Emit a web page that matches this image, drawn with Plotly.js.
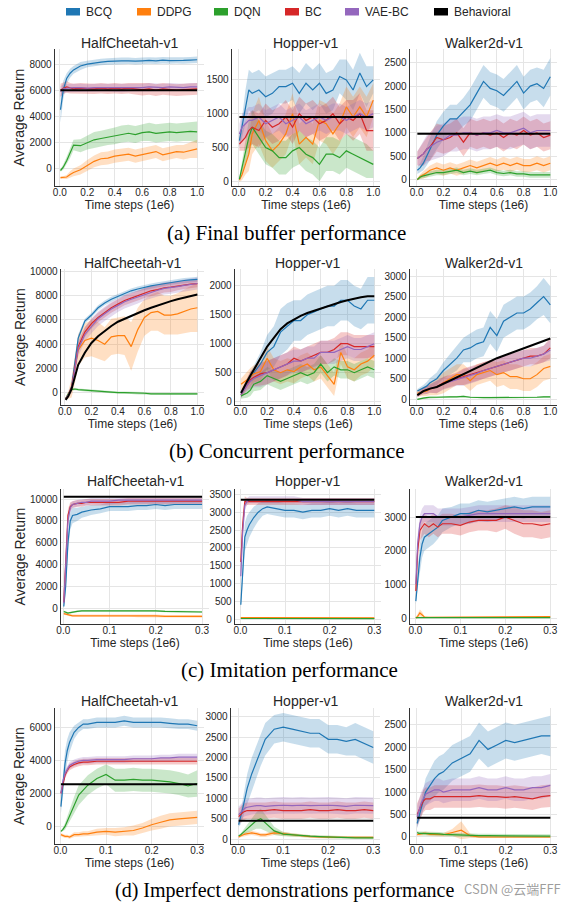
<!DOCTYPE html>
<html>
<head>
<meta charset="utf-8">
<script src="https://cdn.plot.ly/plotly-3.0.1.min.js"></script>
<style>html,body{margin:0;padding:0;background:#fff}#chart{width:576px;height:904px}</style>
</head>
<body>
<div id="chart"></div>
<script>
// ---------------- DATA ----------------
const methods = ['BCQ', 'DDPG', 'DQN', 'BC', 'VAE-BC', 'Behavioral'];
const envs = ['HalfCheetah-v1', 'Hopper-v1', 'Walker2d-v1'];
const captions = ['(a) Final buffer performance', '(b) Concurrent performance', '(c) Imitation performance', '(d) Imperfect demonstrations performance'];
const xTickVals1 = [0, 0.2, 0.4, 0.6, 0.8, 1.0];
const xTickText1 = ['0.0', '0.2', '0.4', '0.6', '0.8', '1.0'];
const xTickVals2 = [0, 0.1, 0.2, 0.3];
const xTickText2 = ['0.0', '0.1', '0.2', '0.3'];

// time steps (1e6)
const xAB = [0.005, 0.025, 0.05, 0.075, 0.1, 0.15, 0.2, 0.25, 0.3, 0.35, 0.4, 0.45, 0.5, 0.55, 0.6, 0.65, 0.7, 0.75, 0.8, 0.85, 0.9, 0.95, 1.0];
const xCD = [0.001, 0.005, 0.01, 0.015, 0.02, 0.03, 0.04, 0.05, 0.06, 0.08, 0.1, 0.12, 0.14, 0.16, 0.18, 0.2, 0.22, 0.24, 0.26, 0.28, 0.3];

// (a) Final buffer — HalfCheetah
const a1_BCQ = [4500, 6000, 6900, 7300, 7550, 7850, 8000, 8100, 8150, 8200, 8250, 8250, 8250, 8220, 8250, 8280, 8250, 8300, 8270, 8300, 8280, 8300, 8330];
const a1_BCQ_sd = [1000, 700, 400, 350, 300, 300, 250, 250, 250, 250, 250, 250, 250, 250, 250, 250, 250, 250, 250, 250, 250, 250, 250];
const a1_DDPG = [-700, -700, -650, -450, -300, -100, 250, 550, 750, 800, 950, 1050, 1100, 950, 1050, 1200, 1300, 1050, 1200, 1300, 1250, 1400, 1500];
const a1_DDPG_sd = [100, 100, 150, 250, 300, 350, 400, 450, 500, 500, 500, 500, 500, 500, 500, 500, 500, 500, 500, 500, 550, 600, 700];
const a1_DQN = [-150, 100, 600, 1200, 1800, 1750, 2000, 2200, 2300, 2400, 2500, 2650, 2700, 2600, 2750, 2800, 2700, 2750, 2800, 2750, 2800, 2850, 2800];
const a1_DQN_sd = [100, 200, 300, 400, 400, 500, 550, 600, 600, 600, 650, 650, 650, 650, 650, 700, 700, 700, 700, 700, 700, 750, 800];
const a1_BC = [6000, 6150, 6250, 6150, 6100, 6150, 6100, 6100, 6150, 6100, 6150, 6100, 6150, 6100, 6050, 6100, 6000, 6100, 6050, 6000, 6050, 6100, 6100];
const a1_BC_sd = [500, 450, 450, 400, 400, 400, 400, 400, 400, 400, 400, 400, 400, 450, 450, 450, 450, 450, 450, 450, 450, 450, 450];
const a1_VAE = [5900, 6100, 6150, 6200, 6200, 6200, 6150, 6200, 6200, 6200, 6200, 6150, 6200, 6200, 6200, 6250, 6200, 6200, 6250, 6200, 6200, 6250, 6250];
const a1_VAE_sd = [400, 350, 300, 300, 300, 300, 300, 300, 300, 300, 300, 300, 300, 300, 300, 300, 300, 300, 300, 300, 300, 300, 300];
const a1_Beh = [6000, 6000];

// (a) Final buffer — Hopper
const a2_BCQ = [600, 800, 1100, 1350, 1300, 1350, 1250, 1300, 1400, 1400, 1450, 1300, 1450, 1350, 1450, 1300, 1350, 1550, 1500, 1350, 1600, 1400, 1500];
const a2_BCQ_sd = [100, 150, 250, 300, 300, 300, 300, 300, 250, 250, 250, 300, 300, 300, 300, 300, 300, 250, 300, 300, 300, 300, 200];
const a2_DDPG = [20, 100, 250, 400, 700, 900, 600, 450, 550, 700, 1000, 550, 650, 550, 900, 850, 700, 850, 1100, 950, 1100, 950, 1200];
const a2_DDPG_sd = [30, 80, 150, 250, 300, 350, 300, 250, 250, 300, 300, 300, 300, 300, 300, 300, 300, 300, 300, 300, 300, 300, 250];
const a2_DQN = [30, 200, 450, 650, 800, 650, 500, 450, 350, 350, 450, 500, 400, 350, 250, 400, 400, 350, 450, 400, 350, 300, 250];
const a2_DQN_sd = [30, 100, 200, 250, 250, 250, 250, 250, 250, 250, 250, 250, 250, 250, 250, 250, 250, 250, 250, 250, 250, 250, 200];
const a2_BC = [550, 600, 650, 750, 800, 750, 900, 800, 850, 950, 800, 1000, 900, 950, 850, 900, 1000, 850, 950, 900, 1000, 750, 750];
const a2_BC_sd = [100, 150, 200, 250, 250, 250, 250, 250, 250, 250, 250, 250, 250, 250, 250, 250, 250, 250, 250, 300, 300, 300, 300];
const a2_VAE = [700, 800, 850, 900, 900, 950, 850, 900, 950, 850, 900, 950, 850, 900, 950, 900, 950, 950, 900, 950, 1000, 950, 1000];
const a2_VAE_sd = [150, 200, 200, 200, 200, 200, 200, 200, 200, 200, 200, 200, 200, 200, 200, 200, 200, 200, 200, 200, 200, 200, 200];
const a2_Beh = [950, 950];

// (a) Final buffer — Walker2d
const a3_BCQ = [200, 250, 350, 500, 650, 950, 1150, 1300, 1300, 1450, 1600, 1850, 2100, 1950, 1900, 1800, 1950, 2100, 1850, 2000, 2050, 1950, 2200];
const a3_BCQ_sd = [80, 100, 150, 200, 250, 300, 300, 300, 300, 300, 350, 350, 350, 350, 350, 350, 350, 350, 350, 350, 350, 400, 400];
const a3_DDPG = [0, 60, 100, 150, 200, 250, 200, 250, 200, 250, 300, 250, 300, 350, 300, 350, 300, 350, 300, 300, 350, 300, 350];
const a3_DDPG_sd = [20, 50, 80, 100, 100, 120, 120, 120, 120, 120, 130, 130, 130, 130, 130, 140, 140, 140, 140, 140, 150, 150, 150];
const a3_DQN = [0, 50, 80, 100, 120, 150, 150, 170, 200, 150, 180, 150, 180, 200, 150, 130, 150, 120, 120, 100, 100, 100, 100];
const a3_DQN_sd = [20, 40, 50, 60, 60, 60, 60, 60, 60, 60, 60, 60, 60, 60, 60, 60, 60, 60, 60, 60, 60, 60, 60];
const a3_BC = [450, 500, 550, 650, 700, 900, 850, 900, 1000, 800, 1000, 950, 1000, 950, 1000, 900, 1000, 950, 1050, 950, 1000, 900, 950];
const a3_BC_sd = [150, 200, 250, 250, 300, 300, 300, 300, 300, 300, 300, 300, 300, 300, 300, 300, 300, 300, 300, 300, 300, 300, 300];
const a3_VAE = [450, 500, 550, 650, 700, 800, 850, 950, 950, 1000, 1000, 950, 1000, 1000, 1050, 1000, 1000, 1050, 1100, 1000, 1050, 1050, 1050];
const a3_VAE_sd = [150, 200, 250, 300, 300, 350, 350, 350, 350, 350, 350, 350, 350, 350, 350, 350, 350, 350, 350, 350, 350, 350, 350];
const a3_Beh = [980, 980];

// (b) Concurrent — HalfCheetah
const b1_BCQ = [-500, -200, 500, 2500, 4500, 5900, 6400, 7000, 7400, 7700, 7950, 8200, 8400, 8550, 8700, 8800, 8900, 9000, 9100, 9150, 9250, 9300, 9350];
const b1_BCQ_sd = [100, 150, 200, 300, 300, 200, 200, 200, 200, 200, 200, 200, 200, 200, 200, 200, 200, 200, 200, 200, 200, 200, 200];
const b1_DDPG = [-500, -200, 400, 2000, 3500, 4300, 4500, 4300, 4000, 4600, 4700, 4700, 3800, 5200, 6200, 6600, 6700, 6400, 6400, 6500, 6700, 6900, 7000];
const b1_DDPG_sd = [100, 300, 800, 1200, 1300, 1400, 1500, 1500, 1400, 1500, 1500, 1600, 2000, 1800, 1500, 1500, 1600, 1600, 1600, 1700, 1800, 1900, 2000];
const b1_DQN = [-500, -100, 250, 300, 250, 200, 150, 100, 100, 50, 0, 0, 0, -50, -50, -100, -100, -100, -100, -100, -100, -120, -100];
const b1_DQN_sd = [50, 100, 100, 100, 100, 100, 100, 100, 100, 100, 100, 100, 100, 100, 100, 100, 100, 100, 100, 100, 100, 100, 100];
const b1_BC = [-500, -200, 400, 2200, 3800, 5000, 5700, 6200, 6600, 7000, 7300, 7600, 7800, 8000, 8200, 8400, 8500, 8650, 8700, 8800, 8900, 8950, 9000];
const b1_BC_sd = [100, 200, 300, 400, 400, 400, 400, 400, 400, 400, 400, 400, 400, 400, 400, 400, 400, 400, 400, 350, 350, 300, 300];
const b1_VAE = [-500, -200, 300, 2000, 3600, 4800, 5500, 6100, 6500, 6900, 7200, 7500, 7700, 7900, 8100, 8300, 8450, 8600, 8650, 8750, 8850, 8900, 9000];
const b1_VAE_sd = [100, 200, 300, 500, 600, 600, 600, 600, 600, 600, 550, 550, 550, 550, 500, 500, 500, 500, 500, 500, 500, 500, 500];
const b1_Beh = [-600, -300, 300, 1300, 2300, 3300, 4100, 4650, 5100, 5500, 5850, 6100, 6350, 6600, 6800, 7000, 7200, 7400, 7550, 7700, 7850, 8000, 8100];

// (b) Concurrent — Hopper
const b2_BCQ = [120, 220, 330, 420, 500, 650, 850, 950, 1200, 1300, 1400, 1400, 1500, 1550, 1600, 1650, 1650, 1750, 1750, 1650, 1600, 1750, 1750];
const b2_BCQ_sd = [50, 60, 80, 100, 120, 200, 300, 350, 400, 400, 350, 350, 350, 350, 350, 350, 350, 350, 350, 350, 350, 400, 400];
const b2_DDPG = [300, 330, 380, 430, 480, 520, 750, 550, 500, 550, 520, 600, 650, 550, 600, 450, 300, 850, 600, 550, 650, 700, 800];
const b2_DDPG_sd = [100, 120, 150, 150, 150, 150, 200, 200, 200, 200, 200, 200, 200, 200, 200, 200, 200, 200, 200, 200, 200, 200, 200];
const b2_DQN = [100, 120, 150, 200, 300, 350, 450, 400, 350, 400, 450, 500, 450, 500, 650, 500, 600, 550, 550, 500, 550, 600, 550];
const b2_DQN_sd = [50, 60, 80, 100, 120, 150, 150, 150, 150, 150, 150, 150, 150, 150, 150, 150, 150, 150, 150, 150, 150, 150, 150];
const b2_BC = [120, 200, 300, 380, 420, 480, 500, 550, 600, 650, 750, 700, 750, 800, 850, 850, 900, 1000, 1000, 950, 950, 950, 950];
const b2_BC_sd = [50, 80, 100, 150, 150, 200, 200, 200, 200, 200, 200, 200, 200, 200, 200, 200, 200, 200, 200, 200, 200, 200, 200];
const b2_VAE = [120, 200, 280, 350, 400, 450, 500, 550, 600, 650, 700, 700, 750, 750, 850, 850, 850, 900, 950, 900, 900, 950, 1000];
const b2_VAE_sd = [50, 80, 100, 150, 150, 200, 200, 200, 200, 200, 200, 200, 200, 200, 200, 200, 200, 200, 200, 200, 200, 200, 200];
const b2_Beh = [150, 250, 350, 450, 550, 750, 950, 1100, 1250, 1350, 1420, 1480, 1530, 1570, 1600, 1640, 1680, 1720, 1750, 1780, 1800, 1820, 1820];

// (b) Concurrent — Walker2d
const b3_BCQ = [200, 230, 270, 320, 400, 500, 700, 850, 1000, 1200, 1250, 1350, 1400, 1750, 1550, 1900, 2000, 2100, 2100, 2200, 2350, 2500, 2300];
const b3_BCQ_sd = [50, 60, 80, 100, 120, 150, 200, 250, 300, 300, 350, 350, 350, 400, 400, 400, 400, 400, 400, 400, 400, 450, 450];
const b3_DDPG = [150, 150, 180, 200, 250, 300, 400, 500, 600, 600, 450, 600, 650, 700, 600, 650, 550, 550, 500, 500, 600, 750, 800];
const b3_DDPG_sd = [80, 80, 100, 120, 150, 200, 250, 250, 250, 250, 250, 250, 250, 250, 300, 300, 300, 300, 300, 300, 300, 300, 300];
const b3_DQN = [0, 20, 30, 40, 50, 50, 60, 60, 60, 70, 50, 40, 40, 40, 40, 40, 40, 40, 50, 50, 50, 60, 60];
const b3_DQN_sd = [20, 20, 20, 20, 20, 20, 20, 20, 20, 20, 20, 20, 20, 20, 20, 20, 20, 20, 20, 20, 20, 20, 20];
const b3_BC = [100, 150, 200, 230, 260, 300, 400, 450, 500, 550, 600, 650, 700, 750, 800, 850, 900, 950, 1000, 1050, 1050, 1100, 1250];
const b3_BC_sd = [50, 60, 80, 100, 100, 150, 150, 150, 150, 200, 200, 200, 200, 200, 200, 200, 200, 200, 200, 200, 200, 200, 250];
const b3_VAE = [100, 150, 200, 230, 260, 300, 380, 430, 480, 530, 580, 630, 700, 750, 800, 850, 900, 950, 1000, 1000, 1050, 1100, 1200];
const b3_VAE_sd = [50, 60, 80, 100, 100, 150, 150, 150, 150, 200, 200, 200, 200, 200, 200, 200, 200, 200, 200, 200, 200, 200, 250];
const b3_Beh = [100, 150, 200, 230, 260, 300, 380, 450, 520, 600, 680, 760, 850, 920, 1000, 1060, 1120, 1180, 1240, 1300, 1360, 1420, 1480];

// (c) Imitation — HalfCheetah
const c1_BCQ = [200, 2000, 6000, 8000, 8500, 8600, 8800, 8900, 9000, 9100, 9300, 9300, 9300, 9400, 9400, 9500, 9400, 9500, 9500, 9500, 9500];
const c1_BCQ_sd = [200, 500, 800, 800, 700, 600, 500, 500, 450, 400, 400, 400, 400, 400, 400, 400, 400, 400, 400, 400, 400];
const c1_DDPG = [-450, -500, -550, -600, -650, -650, -650, -600, -600, -650, -600, -600, -600, -650, -650, -650, -700, -700, -700, -700, -700];
const c1_DDPG_sd = [100, 100, 100, 120, 120, 120, 120, 120, 120, 120, 120, 120, 120, 120, 120, 120, 120, 120, 120, 120, 120];
const c1_DQN = [-250, -350, -400, -350, -300, -250, -200, -200, -150, -150, -150, -150, -150, -200, -200, -200, -250, -250, -300, -300, -300];
const c1_DQN_sd = [80, 80, 80, 80, 80, 80, 80, 80, 80, 80, 80, 80, 80, 80, 80, 80, 80, 80, 80, 80, 80];
const c1_BC = [600, 4000, 8500, 9300, 9500, 9600, 9600, 9700, 9700, 9700, 9700, 9700, 9800, 9800, 9800, 9800, 9800, 9800, 9800, 9800, 9800];
const c1_BC_sd = [300, 600, 600, 400, 300, 300, 300, 300, 300, 300, 300, 300, 300, 300, 300, 300, 300, 300, 300, 300, 300];
const c1_VAE = [500, 3500, 8000, 9200, 9500, 9600, 9700, 9700, 9800, 9800, 9800, 9900, 9900, 9900, 9900, 9900, 9900, 9900, 9900, 9900, 9900];
const c1_VAE_sd = [300, 600, 600, 400, 300, 300, 300, 300, 300, 300, 300, 300, 300, 300, 300, 300, 300, 300, 300, 300, 300];
const c1_Beh = [10200, 10200];

// (c) Imitation — Hopper
const c2_BCQ = [400, 1300, 2300, 2500, 2650, 2850, 3000, 3100, 3150, 3100, 3050, 3050, 3000, 3050, 3050, 3100, 3050, 3100, 3050, 3050, 3050];
const c2_BCQ_sd = [100, 300, 400, 400, 350, 300, 250, 200, 200, 200, 200, 200, 200, 200, 200, 200, 200, 200, 200, 200, 200];
const c2_DDPG = [40, 40, 40, 40, 30, 30, 30, 30, 30, 30, 30, 30, 30, 30, 40, 30, 30, 30, 30, 30, 30];
const c2_DDPG_sd = [20, 20, 20, 20, 20, 20, 20, 20, 20, 20, 20, 20, 20, 20, 20, 20, 20, 20, 20, 20, 20];
const c2_DQN = [15, 15, 10, 10, 10, 10, 10, 10, 10, 10, 10, 10, 10, 10, 10, 10, 10, 10, 10, 10, 10];
const c2_DQN_sd = [10, 10, 10, 10, 10, 10, 10, 10, 10, 10, 10, 10, 10, 10, 10, 10, 10, 10, 10, 10, 10];
const c2_BC = [1600, 2600, 3300, 3300, 3300, 3300, 3300, 3300, 3280, 3300, 3300, 3300, 3300, 3280, 3300, 3280, 3300, 3300, 3280, 3300, 3300];
const c2_BC_sd = [300, 300, 150, 100, 100, 100, 100, 100, 100, 100, 100, 100, 100, 100, 100, 100, 100, 100, 100, 100, 100];
const c2_VAE = [1200, 2400, 3200, 3300, 3350, 3350, 3350, 3350, 3350, 3350, 3350, 3350, 3300, 3300, 3300, 3300, 3300, 3300, 3300, 3300, 3300];
const c2_VAE_sd = [300, 300, 150, 100, 100, 100, 100, 100, 100, 100, 100, 100, 100, 100, 100, 100, 100, 100, 100, 100, 100];
const c2_Beh = [3350, 3350];

// (c) Imitation — Walker2d
const c3_BCQ = [500, 1200, 1800, 2200, 2400, 2500, 2600, 2700, 2900, 3000, 3100, 3100, 3200, 3150, 3200, 3250, 3300, 3250, 3300, 3300, 3300];
const c3_BCQ_sd = [100, 300, 400, 400, 400, 400, 400, 350, 350, 300, 300, 300, 300, 300, 300, 300, 300, 300, 300, 300, 300];
const c3_DDPG = [0, 50, 150, 100, 30, 20, 20, 20, 20, 20, 20, 40, 30, 30, 30, 30, 30, 30, 30, 40, 40];
const c3_DDPG_sd = [20, 60, 100, 80, 30, 20, 20, 20, 20, 20, 20, 20, 20, 20, 20, 20, 20, 20, 20, 20, 20];
const c3_DQN = [10, 10, 10, 10, 10, 10, 10, 10, 10, 10, 10, 10, 10, 10, 10, 10, 10, 10, 10, 10, 10];
const c3_DQN_sd = [10, 10, 10, 10, 10, 10, 10, 10, 10, 10, 10, 10, 10, 10, 10, 10, 10, 10, 10, 10, 10];
const c3_BC = [800, 2000, 2600, 2700, 2800, 2700, 2800, 2700, 2800, 2800, 2750, 2850, 2900, 2900, 2900, 3000, 2900, 2800, 2800, 2750, 2800];
const c3_BC_sd = [200, 300, 300, 300, 300, 300, 300, 300, 300, 300, 300, 300, 300, 300, 350, 350, 400, 400, 400, 400, 400];
const c3_VAE = [1000, 2200, 2800, 3000, 3100, 3100, 3100, 3000, 3000, 3000, 3000, 3050, 3100, 3100, 3100, 3100, 3100, 3100, 3100, 3100, 3100];
const c3_VAE_sd = [250, 250, 250, 250, 250, 250, 250, 250, 250, 250, 250, 250, 250, 250, 250, 250, 250, 250, 250, 250, 250];
const c3_Beh = [3000, 3000];

// (d) Imperfect demonstrations — HalfCheetah
const d1_BCQ = [1200, 2500, 3800, 4600, 5100, 5700, 6000, 6200, 6200, 6300, 6300, 6300, 6400, 6300, 6300, 6300, 6300, 6250, 6200, 6200, 6100];
const d1_BCQ_sd = [400, 700, 800, 700, 600, 400, 300, 300, 300, 300, 300, 300, 300, 300, 300, 300, 300, 300, 300, 300, 300];
const d1_DDPG = [-500, -550, -600, -600, -650, -500, -500, -450, -450, -350, -300, -350, -300, -250, -100, 100, 250, 400, 450, 500, 550];
const d1_DDPG_sd = [100, 100, 100, 100, 100, 150, 150, 150, 150, 200, 200, 250, 250, 300, 300, 350, 400, 400, 400, 400, 400];
const d1_DQN = [-300, -200, 0, 300, 700, 1300, 1900, 2200, 2500, 2900, 3150, 2800, 2800, 2850, 2800, 2800, 2750, 2700, 2600, 2450, 2600];
const d1_DQN_sd = [50, 100, 200, 300, 400, 500, 600, 600, 600, 600, 600, 700, 700, 700, 700, 700, 700, 700, 700, 700, 800];
const d1_BC = [2000, 2600, 3100, 3400, 3600, 3750, 3850, 3900, 3900, 3950, 3950, 3950, 3950, 3950, 3950, 3950, 3950, 3950, 3950, 3950, 3950];
const d1_BC_sd = [200, 200, 200, 200, 200, 200, 200, 200, 200, 200, 200, 200, 200, 200, 200, 200, 200, 200, 200, 200, 200];
const d1_VAE = [2000, 2700, 3200, 3500, 3700, 3850, 3950, 4000, 4000, 4050, 4050, 4050, 4050, 4100, 4100, 4100, 4150, 4150, 4200, 4200, 4200];
const d1_VAE_sd = [200, 200, 200, 200, 200, 200, 200, 200, 200, 200, 200, 200, 200, 200, 200, 200, 200, 200, 200, 200, 200];
const d1_Beh = [2550, 2550];

// (d) Imperfect demonstrations — Hopper
const d2_BCQ = [350, 500, 750, 1000, 1250, 1600, 1900, 2200, 2450, 2700, 2750, 2700, 2650, 2600, 2600, 2450, 2450, 2400, 2450, 2350, 2250];
const d2_BCQ_sd = [50, 150, 250, 300, 350, 400, 400, 400, 400, 350, 350, 350, 350, 350, 350, 350, 350, 350, 400, 400, 400];
const d2_DDPG = [50, 80, 100, 120, 130, 150, 130, 100, 100, 150, 130, 100, 80, 60, 50, 50, 40, 40, 40, 40, 40];
const d2_DDPG_sd = [30, 40, 50, 50, 50, 50, 50, 50, 50, 50, 50, 40, 40, 30, 30, 30, 30, 30, 30, 30, 30];
const d2_DQN = [80, 100, 150, 200, 250, 350, 450, 500, 400, 200, 120, 100, 80, 70, 60, 50, 40, 40, 30, 30, 30];
const d2_DQN_sd = [20, 30, 50, 80, 100, 150, 200, 250, 200, 100, 50, 40, 30, 30, 30, 30, 30, 30, 30, 30, 30];
const d2_BC = [550, 600, 650, 680, 700, 700, 700, 700, 700, 720, 700, 700, 700, 720, 700, 700, 720, 700, 700, 720, 700];
const d2_BC_sd = [200, 200, 200, 200, 200, 200, 200, 200, 200, 200, 200, 200, 200, 200, 200, 200, 200, 200, 200, 200, 200];
const d2_VAE = [600, 650, 720, 760, 780, 800, 820, 820, 800, 820, 830, 820, 830, 820, 830, 830, 820, 800, 830, 830, 820];
const d2_VAE_sd = [200, 200, 200, 200, 200, 200, 200, 200, 200, 200, 200, 200, 200, 200, 200, 200, 200, 200, 200, 200, 200];
const d2_Beh = [450, 450];

// (d) Imperfect demonstrations — Walker2d
const d3_BCQ = [300, 450, 650, 850, 1000, 1150, 1300, 1400, 1450, 1650, 1750, 1850, 2150, 1950, 2050, 2150, 2100, 2150, 2200, 2250, 2250];
const d3_BCQ_sd = [100, 150, 200, 250, 300, 350, 400, 400, 400, 400, 400, 400, 400, 400, 400, 400, 400, 400, 400, 400, 450];
const d3_DDPG = [50, 60, 70, 80, 80, 60, 60, 50, 50, 100, 150, 30, 0, 0, 0, 0, 0, 0, 0, 0, 0];
const d3_DDPG_sd = [30, 30, 30, 40, 40, 40, 40, 40, 40, 80, 200, 50, 20, 20, 20, 20, 20, 20, 20, 20, 20];
const d3_DQN = [100, 80, 80, 80, 80, 80, 70, 70, 60, 50, 50, 40, 30, 30, 30, 20, 20, 20, 20, 20, 20];
const d3_DQN_sd = [40, 40, 40, 40, 40, 40, 40, 40, 40, 40, 40, 40, 40, 40, 40, 40, 40, 40, 40, 40, 40];
const d3_BC = [500, 600, 700, 800, 850, 850, 900, 900, 900, 900, 900, 900, 920, 900, 900, 880, 900, 880, 850, 900, 920];
const d3_BC_sd = [250, 250, 250, 250, 250, 250, 250, 250, 250, 250, 250, 250, 250, 250, 250, 250, 250, 250, 250, 250, 250];
const d3_VAE = [450, 600, 750, 850, 950, 1000, 1050, 1050, 1000, 1050, 1050, 1050, 1100, 1050, 1050, 1100, 1050, 1050, 1100, 1100, 1150];
const d3_VAE_sd = [250, 250, 250, 250, 250, 250, 250, 250, 250, 250, 250, 250, 250, 250, 250, 250, 250, 250, 250, 250, 250];
const d3_Beh = [430, 430];

// ---------------- PANELS (built from the arrays) ----------------
const panelData = [
  {x: xAB, s: [[a1_BCQ, a1_BCQ_sd], [a1_DDPG, a1_DDPG_sd], [a1_DQN, a1_DQN_sd], [a1_BC, a1_BC_sd], [a1_VAE, a1_VAE_sd]], beh: a1_Beh},
  {x: xAB, s: [[a2_BCQ, a2_BCQ_sd], [a2_DDPG, a2_DDPG_sd], [a2_DQN, a2_DQN_sd], [a2_BC, a2_BC_sd], [a2_VAE, a2_VAE_sd]], beh: a2_Beh},
  {x: xAB, s: [[a3_BCQ, a3_BCQ_sd], [a3_DDPG, a3_DDPG_sd], [a3_DQN, a3_DQN_sd], [a3_BC, a3_BC_sd], [a3_VAE, a3_VAE_sd]], beh: a3_Beh},
  {x: xAB, s: [[b1_BCQ, b1_BCQ_sd], [b1_DDPG, b1_DDPG_sd], [b1_DQN, b1_DQN_sd], [b1_BC, b1_BC_sd], [b1_VAE, b1_VAE_sd]], beh: b1_Beh},
  {x: xAB, s: [[b2_BCQ, b2_BCQ_sd], [b2_DDPG, b2_DDPG_sd], [b2_DQN, b2_DQN_sd], [b2_BC, b2_BC_sd], [b2_VAE, b2_VAE_sd]], beh: b2_Beh},
  {x: xAB, s: [[b3_BCQ, b3_BCQ_sd], [b3_DDPG, b3_DDPG_sd], [b3_DQN, b3_DQN_sd], [b3_BC, b3_BC_sd], [b3_VAE, b3_VAE_sd]], beh: b3_Beh},
  {x: xCD, s: [[c1_BCQ, c1_BCQ_sd], [c1_DDPG, c1_DDPG_sd], [c1_DQN, c1_DQN_sd], [c1_BC, c1_BC_sd], [c1_VAE, c1_VAE_sd]], beh: c1_Beh},
  {x: xCD, s: [[c2_BCQ, c2_BCQ_sd], [c2_DDPG, c2_DDPG_sd], [c2_DQN, c2_DQN_sd], [c2_BC, c2_BC_sd], [c2_VAE, c2_VAE_sd]], beh: c2_Beh},
  {x: xCD, s: [[c3_BCQ, c3_BCQ_sd], [c3_DDPG, c3_DDPG_sd], [c3_DQN, c3_DQN_sd], [c3_BC, c3_BC_sd], [c3_VAE, c3_VAE_sd]], beh: c3_Beh},
  {x: xCD, s: [[d1_BCQ, d1_BCQ_sd], [d1_DDPG, d1_DDPG_sd], [d1_DQN, d1_DQN_sd], [d1_BC, d1_BC_sd], [d1_VAE, d1_VAE_sd]], beh: d1_Beh},
  {x: xCD, s: [[d2_BCQ, d2_BCQ_sd], [d2_DDPG, d2_DDPG_sd], [d2_DQN, d2_DQN_sd], [d2_BC, d2_BC_sd], [d2_VAE, d2_VAE_sd]], beh: d2_Beh},
  {x: xCD, s: [[d3_BCQ, d3_BCQ_sd], [d3_DDPG, d3_DDPG_sd], [d3_DQN, d3_DQN_sd], [d3_BC, d3_BC_sd], [d3_VAE, d3_VAE_sd]], beh: d3_Beh}
];

// ---------------- LAYOUT / STYLE ----------------
const W = 576, H = 904;
const colors = ['#1f77b4', '#ff7f0e', '#2ca02c', '#d62728', '#9467bd', '#000000'];
const bands = ['rgba(31,119,180,0.25)', 'rgba(255,127,14,0.25)', 'rgba(44,160,44,0.25)', 'rgba(214,39,40,0.25)', 'rgba(148,103,189,0.25)'];
// pixel boxes per panel: [left, right, top, bottom]
const boxes = [
  [55, 204, 49, 186], [232, 380, 49, 186], [410, 557, 49, 186],
  [61, 204, 269, 405], [235, 381, 269, 405], [410, 557, 269, 405],
  [61, 209, 489, 624], [235, 381, 489, 624], [410, 557, 489, 624],
  [55, 204, 708, 844], [231, 380, 708, 844], [410, 557, 708, 844]
];
const xRanges = [
  [-0.035, 1.05], [-0.05, 1.05], [-0.05, 1.05],
  [-0.03, 1.05], [-0.04, 1.05], [-0.05, 1.05],
  [-0.005, 0.315], [-0.012, 0.315], [-0.012, 0.315],
  [-0.012, 0.315], [-0.016, 0.315], [-0.015, 0.315]
];
const yRanges = [
  [-1338, 9154], [-70, 1956], [-138, 2794],
  [-1017, 10198], [-57, 2289], [-139, 3171],
  [-1395, 10912], [-140, 3652], [-178, 3832],
  [-1067, 7176], [-123, 3221], [-156, 2872]
];
const yDticks = [2000, 500, 500, 2000, 500, 500, 2000, 500, 1000, 2000, 500, 500];
const titleY = [43, 263, 481, 701];
const captionY = [233, 451, 670, 890];
const captionX = [286, 287, 289, 284];
const captionSize = [21, 21, 21, 20];

const textColor = '#262626';
const font = 'Liberation Sans, Arial, sans-serif';

const traces = [];
const layout = {
  width: W, height: H,
  margin: {l: 0, r: 0, t: 0, b: 0},
  paper_bgcolor: '#ffffff', plot_bgcolor: '#ffffff',
  showlegend: false,
  font: {family: font, color: textColor},
  annotations: [], shapes: []
};

panelData.forEach((p, k) => {
  const n = k + 1;
  const xa = 'x' + (n === 1 ? '' : n);
  const ya = 'y' + (n === 1 ? '' : n);
  const xs = p.x;
  // bands
  p.s.forEach((pair, i) => {
    const m = pair[0], sd = pair[1];
    const up = m.map((v, j) => v + sd[j]);
    const lo = m.map((v, j) => v - sd[j]);
    traces.push({
      type: 'scatter', mode: 'lines', xaxis: xa, yaxis: ya,
      x: xs.concat(xs.slice().reverse()),
      y: up.concat(lo.slice().reverse()),
      fill: 'toself', fillcolor: bands[i], line: {width: 0, color: 'rgba(0,0,0,0)'},
      hoverinfo: 'skip', showlegend: false
    });
  });
  // mean lines
  p.s.forEach((pair, i) => {
    traces.push({
      type: 'scatter', mode: 'lines', xaxis: xa, yaxis: ya,
      x: xs, y: pair[0], name: methods[i],
      line: {color: colors[i], width: 1.2}, showlegend: false
    });
  });
  // behavioral
  const bx = p.beh.length === xs.length ? xs : [xs[0], xs[xs.length - 1]];
  traces.push({
    type: 'scatter', mode: 'lines', xaxis: xa, yaxis: ya,
    x: bx, y: p.beh, name: 'Behavioral',
    line: {color: '#000000', width: 2}, showlegend: false
  });

  const b = boxes[k];
  const isShort = xs === xCD;
  layout['xaxis' + (n === 1 ? '' : n)] = {
    domain: [b[0] / W, b[1] / W], anchor: ya, range: xRanges[k],
    tickvals: isShort ? xTickVals2 : xTickVals1,
    ticktext: isShort ? xTickText2 : xTickText1,
    showgrid: true, gridcolor: '#e5e5e5', gridwidth: 1,
    showline: true, linecolor: '#333333', linewidth: 1.3,
    zeroline: false, ticks: '', ticklabelstandoff: -3,
    tickfont: {size: 10, color: textColor, family: font},
    title: {text: 'Time steps (1e6)', font: {size: 12, color: textColor, family: font}, standoff: 1},
    fixedrange: true
  };
  const yax = {
    domain: [1 - b[3] / H, 1 - b[2] / H], anchor: xa, range: yRanges[k],
    tick0: 0, dtick: yDticks[k], tickformat: 'd',
    showgrid: true, gridcolor: '#e5e5e5', gridwidth: 1,
    showline: true, linecolor: '#333333', linewidth: 1.3,
    zeroline: false, ticks: '',
    tickfont: {size: 10, color: textColor, family: font},
    fixedrange: true
  };
  if (k % 3 === 0) {
    yax.title = {text: 'Average Return', font: {size: 14, color: textColor, family: font}, standoff: 1};
  }
  layout['yaxis' + (n === 1 ? '' : n)] = yax;

  // subplot title
  layout.annotations.push({
    xref: 'paper', yref: 'paper', x: (b[0] + b[1]) / 2 / W, y: 1 - titleY[Math.floor(k / 3)] / H,
    text: envs[k % 3], showarrow: false, xanchor: 'center', yanchor: 'middle',
    font: {size: 14, color: textColor, family: font}
  });
});

// captions
captions.forEach((c, r) => {
  layout.annotations.push({
    xref: 'paper', yref: 'paper', x: captionX[r] / W, y: 1 - captionY[r] / H,
    text: c, showarrow: false, xanchor: 'center', yanchor: 'middle',
    font: {size: captionSize[r], color: '#000000', family: 'Liberation Serif, Times New Roman, serif'}
  });
});

// legend (patches)
const legX = [66, 137, 214, 285, 345, 434];
methods.forEach((m, i) => {
  layout.shapes.push({
    type: 'rect', xref: 'paper', yref: 'paper',
    x0: legX[i] / W, x1: (legX[i] + 14) / W, y0: 1 - 15.5 / H, y1: 1 - 8 / H,
    fillcolor: colors[i], line: {width: 0}
  });
  layout.annotations.push({
    xref: 'paper', yref: 'paper', x: (legX[i] + 18) / W, y: 1 - 12 / H,
    text: m, showarrow: false, xanchor: 'left', yanchor: 'middle',
    font: {size: 12, color: textColor, family: font}
  });
});

// watermark
layout.annotations.push({
  xref: 'paper', yref: 'paper', x: 563 / W, y: 1 - 888 / H,
  text: 'CSDN @云端FFF', showarrow: false, xanchor: 'right', yanchor: 'middle',
  font: {size: 13, color: 'rgba(140,140,140,0.85)', family: 'Noto Sans CJK SC, sans-serif'}
});

Plotly.newPlot('chart', traces, layout, {displayModeBar: false, staticPlot: true});
</script>
</body>
</html>
